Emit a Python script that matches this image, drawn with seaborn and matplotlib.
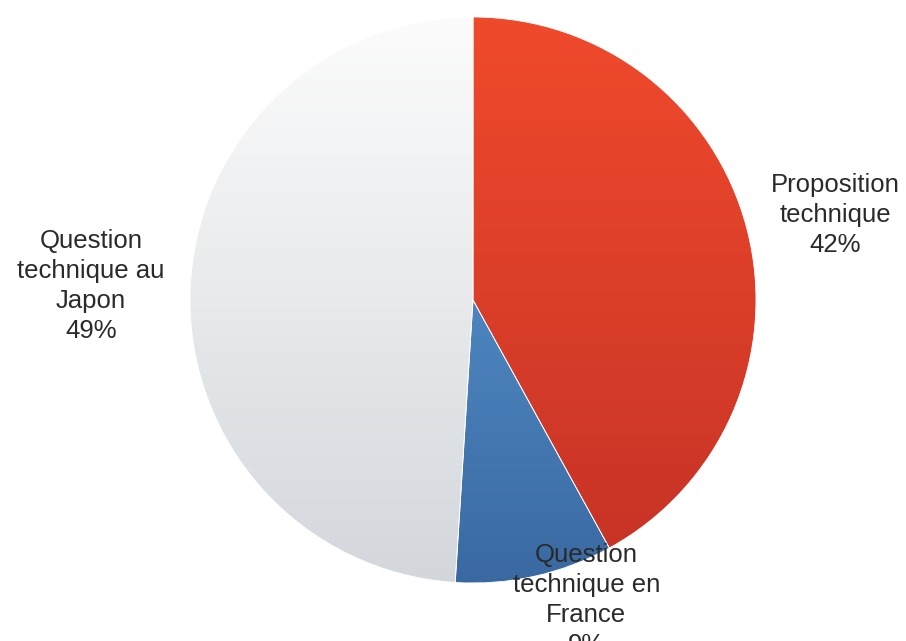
import numpy as np
import matplotlib
matplotlib.use("Agg")
import matplotlib.pyplot as plt
import matplotlib.colors as mcolors
import seaborn as sns

sns.set_style("white")
plt.rcParams['font.family'] = ['Liberation Sans', 'DejaVu Sans']

# données
categories = ["Proposition\ntechnique", "Question\ntechnique en\nFrance", "Question\ntechnique au\nJapon"]
values = [42, 9, 49]
# couleurs dégradées (haut, bas)
colors_top = ["#F04A2C", "#62A2DC", "#FCFCFC"]
colors_bottom = ["#C53226", "#3A69A2", "#D3D7DC"]
label_pos = [(1.28, 0.30), (0.40, -1.06), (-1.35, 0.05)]

fig = plt.figure(figsize=(9.06, 6.41), dpi=100)
ax = fig.add_axes([190 / 906, 58 / 641, 566 / 906, 566 / 641])

wedges, texts = ax.pie(values, startangle=90, counterclock=False, radius=1,
                       labels=[f"{c}\n{v}%" for c, v in zip(categories, values)],
                       wedgeprops=dict(edgecolor="white", linewidth=0.6),
                       textprops=dict(fontsize=18.5, color="#2a2a2a", linespacing=1.32))

for w, ctop, cbot in zip(wedges, colors_top, colors_bottom):
    w.set_facecolor("none")
    cmap = mcolors.LinearSegmentedColormap.from_list("g", [cbot, ctop])
    grad = np.linspace(0, 1, 256).reshape(-1, 1)
    im = ax.imshow(grad, cmap=cmap, extent=(-1, 1, -1, 1), origin="lower",
                   aspect="auto", zorder=0)
    im.set_clip_path(w)

for t, (x, y) in zip(texts, label_pos):
    t.set_position((x, y))
    t.set_ha("center")
    t.set_va("center")

ax.set_xlim(-1, 1)
ax.set_ylim(-1, 1)
ax.set_aspect("equal")
ax.axis("off")

fig.savefig("out.png", dpi=100)
